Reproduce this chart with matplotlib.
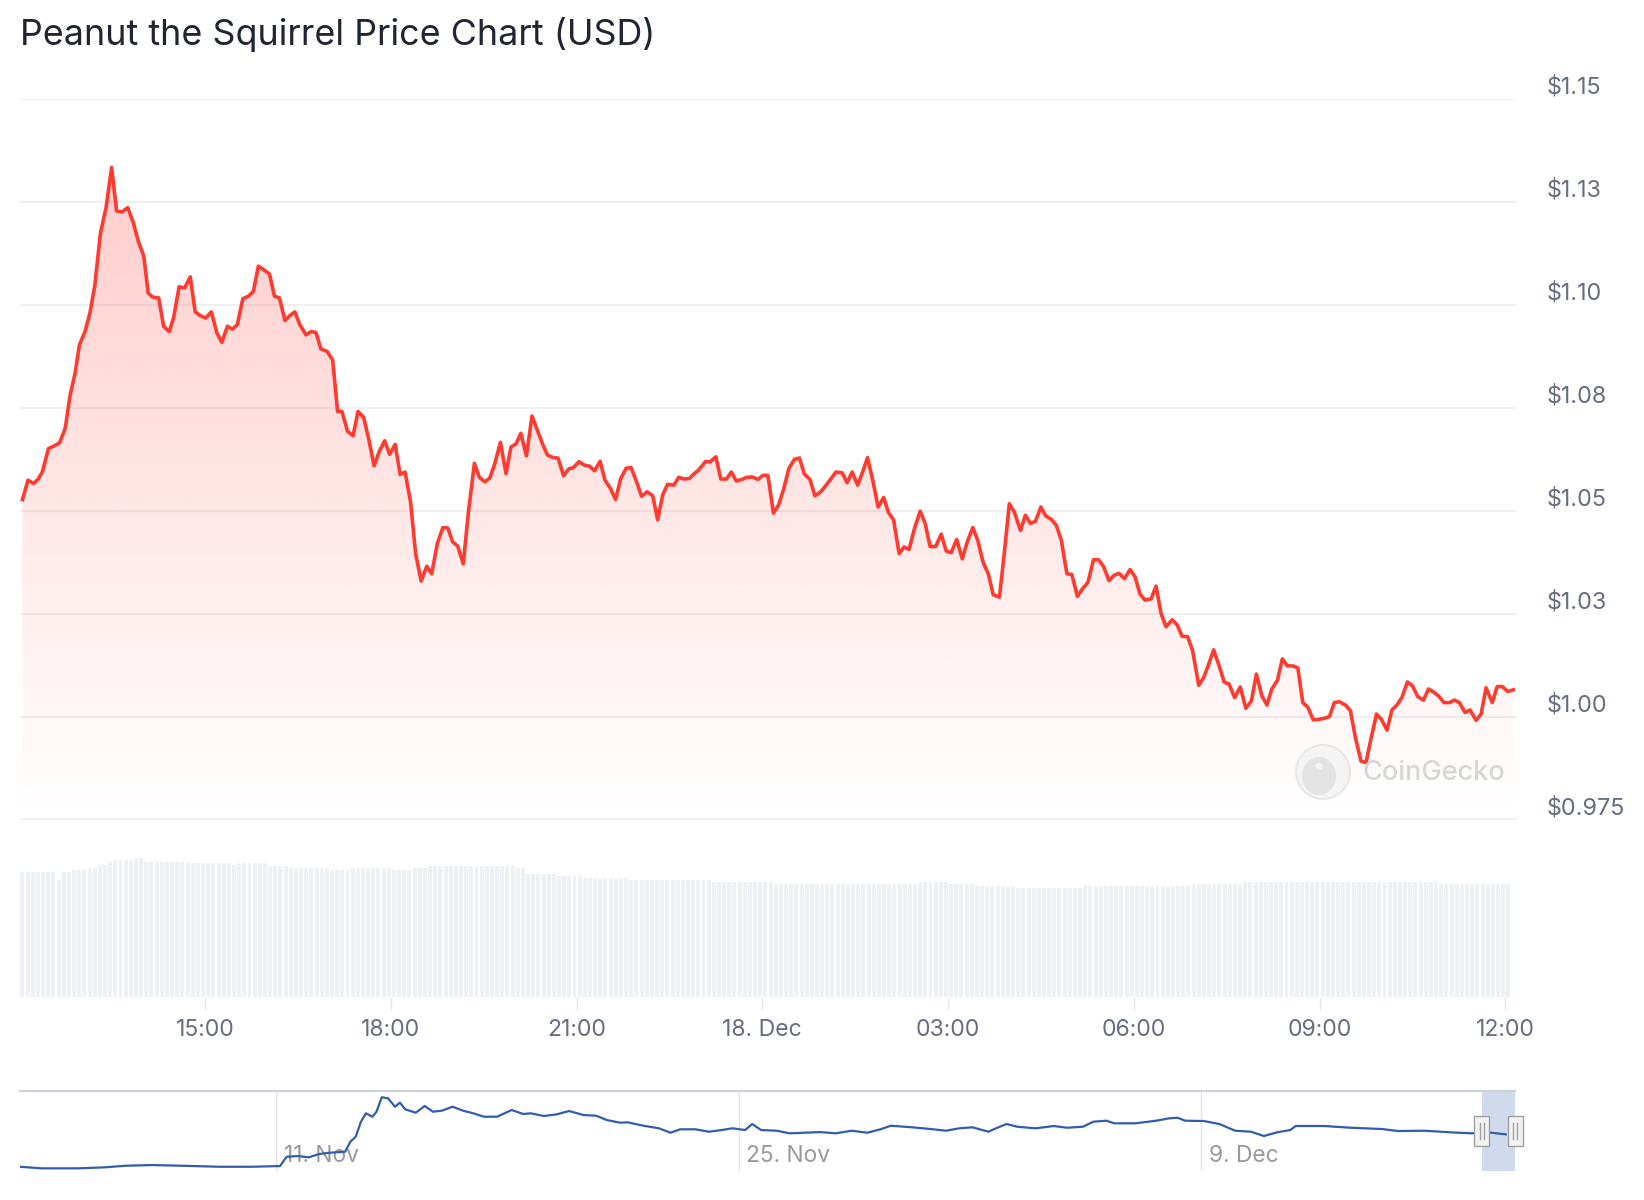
import numpy as np
import matplotlib.pyplot as plt
from matplotlib.patches import Polygon, Ellipse, Rectangle
from matplotlib.transforms import IdentityTransform

plt.rcParams['font.family'] = ['Inter', 'DejaVu Sans']

# -------------------------------------------------
# Data (hours since 17 Dec 00:00, price in USD)
# -------------------------------------------------
hours = [
    12.05, 12.14, 12.23, 12.30, 12.37, 12.47, 12.57, 12.65, 12.74, 12.82, 12.90, 12.97,
    13.06, 13.14, 13.22, 13.31, 13.40, 13.49, 13.57, 13.66, 13.75, 13.84, 13.92, 14.01,
    14.08, 14.15, 14.25, 14.33, 14.42, 14.49, 14.58, 14.67, 14.76, 14.84, 14.92, 15.01,
    15.10, 15.19, 15.27, 15.36, 15.44, 15.52, 15.61, 15.70, 15.78, 15.86, 15.96, 16.04,
    16.12, 16.20, 16.29, 16.37, 16.45, 16.53, 16.63, 16.71, 16.79, 16.87, 16.97,
    17.06, 17.14, 17.21, 17.30, 17.39, 17.47, 17.56, 17.64, 17.73, 17.81, 17.90, 17.98,
    18.07, 18.15, 18.23, 18.32, 18.40, 18.49, 18.58, 18.66, 18.75, 18.84, 18.92, 19.00,
    19.08, 19.17, 19.25, 19.35, 19.43, 19.52, 19.60, 19.68, 19.77, 19.86, 19.94, 20.02,
    20.10, 20.19, 20.28, 20.36, 20.45, 20.53, 20.62, 20.70, 20.79, 20.87, 20.95, 21.04,
    21.12, 21.21, 21.29, 21.38, 21.46, 21.54, 21.63, 21.71, 21.80,
    21.88, 21.97, 22.05, 22.14, 22.23, 22.31, 22.39, 22.47, 22.57, 22.65, 22.74, 22.82,
    22.90, 22.98, 23.08, 23.16, 23.25, 23.33, 23.42, 23.50, 23.58, 23.67, 23.75, 23.84,
    23.93, 24.01, 24.09, 24.18, 24.26, 24.34, 24.43, 24.52, 24.60, 24.68, 24.77, 24.85,
    24.95, 25.03, 25.11, 25.19, 25.29, 25.37, 25.45, 25.54, 25.62, 25.70, 25.79, 25.87,
    25.96, 26.04, 26.12, 26.21, 26.29, 26.37, 26.46, 26.55, 26.63,
    26.71, 26.80, 26.89, 26.97, 27.05, 27.14, 27.23, 27.31, 27.40, 27.48, 27.57, 27.65,
    27.73, 27.83, 27.91, 27.99, 28.07, 28.17, 28.25, 28.33, 28.41, 28.50, 28.58, 28.67,
    28.75, 28.83, 28.92, 29.00, 29.09, 29.17, 29.26, 29.35, 29.43, 29.51, 29.60, 29.68,
    29.76, 29.85, 29.94, 30.02, 30.10, 30.18, 30.28, 30.36, 30.44, 30.52, 30.62, 30.70,
    30.78, 30.87, 30.95, 31.05, 31.13, 31.21, 31.29, 31.38, 31.46,
    31.54, 31.63, 31.72, 31.81, 31.90, 31.98, 32.07, 32.15, 32.23, 32.32, 32.40, 32.48,
    32.57, 32.65, 32.73, 32.81, 32.90, 32.98, 33.08, 33.16, 33.24, 33.32, 33.42, 33.50,
    33.58, 33.67, 33.75, 33.83, 33.92, 34.00, 34.09, 34.17, 34.25, 34.33, 34.42, 34.50,
    34.59, 34.68, 34.76, 34.84, 34.93, 35.01, 35.10, 35.18, 35.26, 35.35, 35.43, 35.53,
    35.61, 35.69, 35.79, 35.87, 35.95, 36.04, 36.13,
]

prices = [
    1.0527, 1.0574, 1.0566, 1.0576, 1.0594, 1.0651, 1.0658, 1.0665, 1.0700, 1.0781, 1.0834, 1.0903,
    1.0935, 1.0980, 1.1049, 1.1175, 1.1236, 1.1334, 1.1228, 1.1226, 1.1236, 1.1200, 1.1155, 1.1118,
    1.1029, 1.1019, 1.1017, 1.0948, 1.0935, 1.0968, 1.1044, 1.1041, 1.1068, 1.0983, 1.0974, 1.0968,
    1.0983, 1.0932, 1.0909, 1.0948, 1.0941, 1.0952, 1.1015, 1.1021, 1.1033, 1.1094, 1.1084, 1.1075,
    1.1021, 1.1017, 1.0962, 1.0974, 1.0983, 1.0952, 1.0927, 1.0935, 1.0933, 1.0893, 1.0887,
    1.0866, 1.0741, 1.0741, 1.0693, 1.0682, 1.0741, 1.0727, 1.0676, 1.0609, 1.0643, 1.0670, 1.0637,
    1.0661, 1.0588, 1.0594, 1.0520, 1.0396, 1.0329, 1.0365, 1.0347, 1.0420, 1.0459, 1.0458, 1.0424,
    1.0414, 1.0371, 1.0493, 1.0615, 1.0581, 1.0570, 1.0580, 1.0615, 1.0666, 1.0590, 1.0655, 1.0662,
    1.0688, 1.0633, 1.0730, 1.0698, 1.0662, 1.0635, 1.0629, 1.0628, 1.0585, 1.0601, 1.0605, 1.0619,
    1.0611, 1.0608, 1.0597, 1.0620, 1.0574, 1.0556, 1.0527, 1.0577, 1.0603,
    1.0605, 1.0570, 1.0535, 1.0546, 1.0536, 1.0478, 1.0538, 1.0564, 1.0562, 1.0581, 1.0577, 1.0578,
    1.0590, 1.0600, 1.0619, 1.0619, 1.0631, 1.0577, 1.0577, 1.0594, 1.0572, 1.0576, 1.0581, 1.0582,
    1.0576, 1.0586, 1.0586, 1.0494, 1.0513, 1.0550, 1.0603, 1.0625, 1.0628, 1.0589, 1.0576, 1.0536,
    1.0547, 1.0562, 1.0578, 1.0594, 1.0592, 1.0568, 1.0594, 1.0562, 1.0594, 1.0629, 1.0570, 1.0509,
    1.0532, 1.0495, 1.0478, 1.0396, 1.0412, 1.0406, 1.0458, 1.0499, 1.0469,
    1.0413, 1.0413, 1.0443, 1.0402, 1.0398, 1.0430, 1.0383, 1.0424, 1.0459, 1.0428, 1.0373, 1.0347,
    1.0296, 1.0290, 1.0399, 1.0517, 1.0497, 1.0452, 1.0489, 1.0469, 1.0474, 1.0509, 1.0487, 1.0479,
    1.0464, 1.0428, 1.0347, 1.0345, 1.0292, 1.0310, 1.0326, 1.0381, 1.0381, 1.0365, 1.0330, 1.0343,
    1.0348, 1.0335, 1.0357, 1.0340, 1.0298, 1.0283, 1.0286, 1.0317, 1.0251, 1.0218, 1.0235, 1.0223,
    1.0195, 1.0194, 1.0160, 1.0076, 1.0095, 1.0127, 1.0162, 1.0123, 1.0084,
    1.0079, 1.0046, 1.0072, 1.0020, 1.0038, 1.0103, 1.0050, 1.0028, 1.0067, 1.0088, 1.0140, 1.0123,
    1.0123, 1.0118, 1.0034, 1.0023, 0.9992, 0.9993, 0.9996, 1.0000, 1.0034, 1.0036, 1.0028, 1.0014,
    0.9949, 0.9892, 0.9888, 0.9945, 1.0006, 0.9993, 0.9967, 1.0016, 1.0028, 1.0046, 1.0084, 1.0075,
    1.0048, 1.0040, 1.0067, 1.0060, 1.0049, 1.0034, 1.0034, 1.0040, 1.0034, 1.0010, 1.0016, 0.9991,
    1.0006, 1.0070, 1.0034, 1.0073, 1.0073, 1.0061, 1.0065,
]

# 24h volume (millions USD), stored as step levels and number of 5-min bars per step
vol_levels = [835, 780, 835, 847, 858, 880, 902, 913, 925, 902, 891, 880, 891, 873, 858, 847,
              858, 847, 858, 873, 858, 820, 807, 795, 780, 769, 753, 769, 753, 740, 725, 740,
              753, 765, 769, 753]
vol_runs = [7, 1, 2, 3, 2, 2, 1, 4, 2, 9, 8, 1, 6, 4, 8, 4,
            8, 4, 3, 17, 2, 6, 5, 9, 16, 12, 28, 6, 5, 8, 13, 21,
            10, 17, 21, 14]
vol_start = 12.05

price_ticks = [0.975, 1.00, 1.025, 1.05, 1.075, 1.10, 1.125, 1.15]
price_labels = ["$0.975", "$1.00", "$1.03", "$1.05", "$1.08", "$1.10", "$1.13", "$1.15"]

time_ticks = [15, 18, 21, 24, 27, 30, 33, 36]
time_labels = ["15:00", "18:00", "21:00", "18. Dec", "03:00", "06:00", "09:00", "12:00"]

# navigator: day of November (1 Dec = 31) and price
nav_days = [3.25, 3.91, 5.02, 5.81, 6.44, 7.24, 8.19, 9.30, 10.24, 11.12, 11.32, 11.67,
            11.99, 12.30, 12.62, 13.09, 13.25, 13.41, 13.57, 13.72, 13.92, 14.04, 14.20, 14.39,
            14.60, 14.75, 14.91, 15.23, 15.50, 15.75, 16.02, 16.34, 16.66, 16.97, 17.29, 17.69,
            18.13, 18.48, 18.71, 19.11, 19.50, 19.87, 20.30, 20.69, 21.01, 21.41, 21.64, 22.12,
            22.59, 22.94, 23.23, 23.70, 24.10, 24.49, 24.81, 25.20, 25.41, 25.68, 26.15, 26.55,
            27.46, 27.94, 28.42, 28.90, 29.29, 29.61, 30.25, 30.81, 31.28, 31.68, 32.08, 32.56,
            32.79, 33.11, 33.43, 33.99, 34.54, 34.94, 35.42, 35.74, 36.13, 36.37, 37.01, 37.64,
            38.04, 38.28, 38.52, 39.08, 39.55, 40.03, 40.51, 40.90, 41.30, 41.70, 41.86, 42.73,
            43.53, 44.48, 44.96, 45.76, 46.55, 47.19, 47.66, 48.22]
nav_prices = [0.068, 0.024, 0.024, 0.052, 0.096, 0.116, 0.096, 0.068, 0.068, 0.088, 0.347, 0.367,
              0.331, 0.423, 0.459, 0.487, 0.766, 0.905, 1.324, 1.558, 1.463, 1.603, 2.005, 1.977,
              1.742, 1.854, 1.670, 1.575, 1.762, 1.603, 1.631, 1.742, 1.631, 1.558, 1.463, 1.463,
              1.650, 1.539, 1.558, 1.483, 1.530, 1.622, 1.511, 1.491, 1.371, 1.296, 1.307, 1.212,
              1.140, 1.017, 1.112, 1.112, 1.045, 1.092, 1.140, 1.092, 1.260, 1.092, 1.073, 1.000,
              1.035, 1.000, 1.073, 1.017, 1.112, 1.212, 1.168, 1.120, 1.073, 1.140, 1.168, 1.045,
              1.140, 1.260, 1.184, 1.140, 1.204, 1.156, 1.184, 1.324, 1.352, 1.279, 1.279, 1.352,
              1.419, 1.435, 1.352, 1.343, 1.260, 1.073, 1.045, 0.925, 1.028, 1.092, 1.204, 1.204,
              1.156, 1.120, 1.064, 1.073, 1.028, 1.000, 1.028, 0.972]
nav_ticks = [11, 25, 39]
nav_labels = ["11. Nov", "25. Nov", "9. Dec"]

# -------------------------------------------------
# Figure
# -------------------------------------------------
W, H = 1644, 1200
fig = plt.figure(figsize=(W / 100, H / 100), dpi=100)
fig.patch.set_facecolor("white")


def fx(px):
    return px / W


def fy(py):
    return 1 - py / H


x0, x1 = 12.01, 36.19
y0, y1 = 0.975, 1.15
line_color = "#ff3b30"
label_color = "#656e7e"

fig.text(fx(20), fy(35), "Peanut the Squirrel Price Chart (USD)", fontsize=25.8,
         color="#1f2533", va="center", ha="left")

# -------------------------------------------------
# Price panel
# -------------------------------------------------
ax = fig.add_axes([fx(20), fy(819.5), fx(1517) - fx(20), fy(99) - fy(819.5)])
for s in ax.spines.values():
    s.set_visible(False)
ax.set_xticks([])
ax.set_yticks([])

for v, lab in zip(price_ticks, price_labels):
    ax.axhline(v, color="#ebebeb", lw=1.1, zorder=0)
    ax.annotate(lab, xy=(1, v), xycoords=("axes fraction", "data"),
                xytext=(21, 8.3), textcoords="offset points",
                ha="left", va="center", fontsize=16.8, color=label_color,
                annotation_clip=False)

grad = np.zeros((256, 1, 4))
grad[:, 0, 0] = 1.0
grad[:, 0, 1] = 58 / 255
grad[:, 0, 2] = 51 / 255
grad[:, 0, 3] = np.linspace(0.28, 0.0, 256)
im = ax.imshow(grad, extent=[x0, x1, y0, y1], origin="upper", aspect="auto",
               zorder=1, interpolation="bilinear")
verts = [(hours[0], y0)] + list(zip(hours, prices)) + [(hours[-1], y0)]
poly = Polygon(verts, closed=True, facecolor="none", edgecolor="none",
               transform=ax.transData)
ax.add_patch(poly)
im.set_clip_path(poly)

ax.plot(hours, prices, color=line_color, lw=2.6, solid_joinstyle="round", zorder=3)
ax.set_xlim(x0, x1)
ax.set_ylim(y0, y1)

# watermark
fig.add_artist(Ellipse((fx(1323), fy(772)), 54 / W, 54 / H, transform=fig.transFigure,
                       facecolor="#f4f4f4", edgecolor="#e6e6e6", lw=1.5, alpha=0.9))
fig.add_artist(Ellipse((fx(1319), fy(776)), 34 / W, 38 / H, transform=fig.transFigure,
                       facecolor="#e2e2e2", edgecolor="none", alpha=0.9))
fig.add_artist(Ellipse((fx(1319), fy(766)), 7 / W, 7 / H, transform=fig.transFigure,
                       facecolor="#f4f4f4", edgecolor="none"))
fig.text(fx(1362), fy(773), "CoinGecko", fontsize=19.5, color="#d6d6d6",
         va="center", ha="left", fontweight="medium")

# -------------------------------------------------
# Volume panel
# -------------------------------------------------
axv = fig.add_axes([fx(20), fy(997), fx(1517) - fx(20), fy(847) - fy(997)])
vols = np.repeat(vol_levels, vol_runs)
bar_times = vol_start + np.arange(len(vols)) / 12
axv.bar(bar_times, vols, width=0.064, color="#edf0f4", align="center", zorder=1)
axv.set_xlim(x0, x1)
axv.set_ylim(0, 1000)
for s in axv.spines.values():
    s.set_visible(False)
axv.set_yticks([])
axv.set_xticks(time_ticks, time_labels)
axv.tick_params(axis="x", length=9.5, width=1, color="#e3e6eb", pad=6,
                labelsize=16.6, labelcolor=label_color)

# -------------------------------------------------
# Navigator
# -------------------------------------------------
axn = fig.add_axes([fx(20), fy(1171), fx(1515) - fx(20), fy(1091) - fy(1171)])
n0, n1 = 3.25, 48.5
axn.set_xlim(n0, n1)
axn.set_ylim(-0.05, 2.18)
for k, s in axn.spines.items():
    s.set_visible(k == "top")
axn.spines["top"].set_color("#cdd1d8")
axn.spines["top"].set_linewidth(1.6)
axn.set_xticks([])
axn.set_yticks([])
for d, lab in zip(nav_ticks, nav_labels):
    axn.axvline(d, color="#e3e3e3", lw=1, zorder=0)
    axn.annotate(lab, xy=(d, 0.19), xycoords=("data", "axes fraction"),
                 xytext=(5.5, 0), textcoords="offset points", ha="left", va="center",
                 fontsize=16.4, color="#9a9a9a", zorder=1)

sel0 = 47 + x0 / 24
sel1 = 47 + x1 / 24
axn.axvspan(sel0, sel1, facecolor=(0.4, 0.52, 0.76, 0.3), edgecolor="none", zorder=1)
axn.plot(nav_days, nav_prices, color="#335cad", lw=1.6, zorder=2)

fig.canvas.draw()
yc = H - 1131
for sx in (sel0, sel1):
    xd = axn.transData.transform((sx, 0))[0]
    fig.add_artist(Rectangle((xd - 7.5, yc - 15), 15, 30, transform=IdentityTransform(),
                             facecolor="#f2f2f2", edgecolor="#a0a0a0", lw=1, zorder=5))
    for dx in (-2, 2):
        fig.add_artist(plt.Line2D([xd + dx, xd + dx], [yc - 8, yc + 8],
                                  transform=IdentityTransform(), color="#a0a0a0",
                                  lw=1, zorder=6))

fig.savefig("out.png", dpi=100, facecolor="white")
